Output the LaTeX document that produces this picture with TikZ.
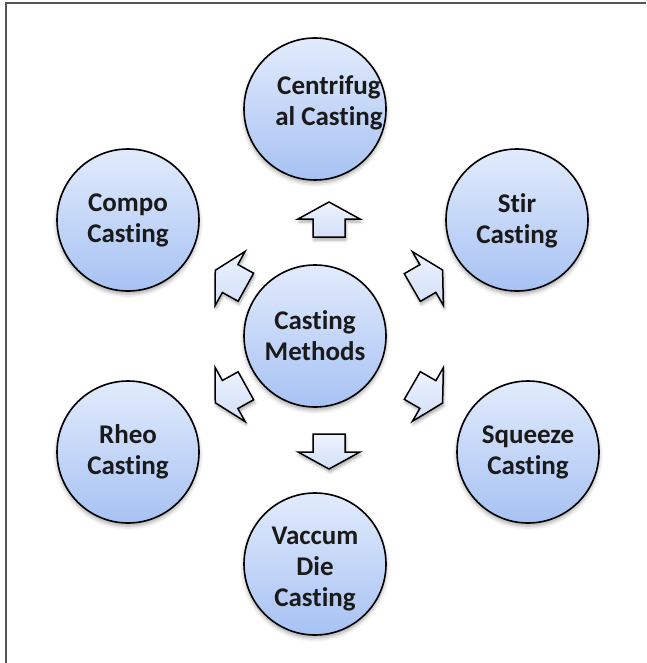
\documentclass[tikz,border=0pt]{standalone}
\usepackage{fontspec}
\setmainfont[Ligatures=NoCommon]{Carlito}
\usetikzlibrary{shadows.blur}
\definecolor{circtop}{HTML}{E2EBFC}
\definecolor{circbot}{HTML}{A7C2F3}
\definecolor{arrtop}{HTML}{EEF3FD}
\definecolor{arrbot}{HTML}{D2DFF9}
\definecolor{txt}{HTML}{1A1A1A}
\definecolor{frame}{HTML}{555555}
\tikzset{
  bubble/.style={circle, draw=black, line width=1.6pt, minimum size=142pt,
    inner sep=0pt, top color=circtop, bottom color=circbot,
    font=\fontsize{27}{31}\selectfont\bfseries, text=txt, align=center,
    blur shadow={shadow xshift=0pt, shadow yshift=-3pt, shadow blur radius=4pt, shadow opacity=35}},
  fatarrow/.style={draw=black, line width=1.5pt, line join=miter,
    top color=arrtop, bottom color=arrbot,
    blur shadow={shadow xshift=1pt, shadow yshift=-3pt, shadow blur radius=3pt, shadow opacity=35}},
  bubbletext/.style={font=\fontsize{27}{31}\selectfont\bfseries, text=txt, align=center, inner sep=0pt}
}
\newcommand{\fatarrowat}[3]{%
  \path[fatarrow, shift={(#1,#2)}, rotate=#3]
    (18,0) -- (1,31) -- (1,16) -- (-17,16) -- (-17,-16) -- (1,-16) -- (1,-31) -- cycle;}
\begin{document}
\begin{tikzpicture}[x=1pt,y=-1pt]
\useasboundingbox (0,0) rectangle (646,663);
\draw[frame, line width=1.5pt] (6,663) -- (6,3) -- (646,3);

\node[bubble] (center) at (315,336) {};
\node[bubble] (centri) at (315,109) {};
\node[bubble] (compo) at (128,220) {};
\node[bubble] (stir) at (517,220) {};
\node[bubble] (rheo) at (128,452) {};
\node[bubble] (squeeze) at (528,452) {};
\node[bubble] (vaccum) at (315,564) {};

\node[bubbletext] (tcenter) at (315,336) {Casting\\Methods};
\node[bubbletext] (tcentri) at (329,103) {Centrifug\\al Casting};
\node[bubbletext] (tcompo) at (128,220) {Compo\\Casting};
\node[bubbletext] (tstir) at (517,221) {Stir\\Casting};
\node[bubbletext] (trheo) at (128,452) {Rheo\\Casting};
\node[bubbletext] (tsqueeze) at (528,452) {Squeeze\\Casting};
\node[bubbletext] (tvaccum) at (315,569) {Vaccum\\Die\\Casting};

\fatarrowat{329}{220}{90}
\fatarrowat{329}{451}{270}
\fatarrowat{231}{279}{151}
\fatarrowat{427}{279}{30}
\fatarrowat{231}{394}{209}
\fatarrowat{427}{394}{330}
\end{tikzpicture}
\end{document}
